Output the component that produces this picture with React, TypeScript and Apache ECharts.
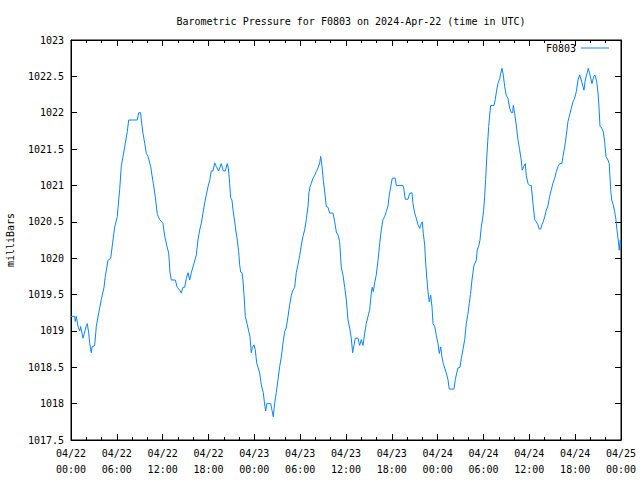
import React, { useEffect, useRef } from "react";
import * as echarts from "echarts";

const seriesName = "F0803";
const titleText = "Barometric Pressure for F0803 on 2024-Apr-22 (time in UTC)";
const yAxisTitle = "milliBars";
const xTickLabels = [
  "04/22\n00:00", "04/22\n06:00", "04/22\n12:00", "04/22\n18:00",
  "04/23\n00:00", "04/23\n06:00", "04/23\n12:00", "04/23\n18:00",
  "04/24\n00:00", "04/24\n06:00", "04/24\n12:00", "04/24\n18:00",
  "04/25\n00:00",
];

// hours since 2024-04-22 00:00 UTC
const hours = [
  0, 0.48, 0.56, 0.69, 0.92, 1.14, 1.27, 1.57, 1.7, 2.0, 2.13, 2.32, 2.45, 2.58, 2.66, 2.75, 3.1, 3.31, 3.63, 3.97,
  4.32, 4.49, 4.84, 5.2, 5.5, 5.72, 6.06, 6.24, 6.37, 6.58, 6.81, 7.11, 7.37, 7.55, 8.68, 8.86, 9.12, 9.2, 9.42, 9.65,
  9.86, 10.08, 10.43, 10.6, 10.77, 11.03, 11.3, 11.61, 12.04, 12.27, 12.57, 12.79, 12.96, 13.13, 13.65, 13.91, 14.23, 14.44, 14.66, 14.88,
  15.09, 15.32, 15.54, 15.75, 16.1, 16.4, 16.62, 16.85, 17.06, 17.28, 17.5, 17.71, 17.93, 18.16, 18.37, 18.59, 18.81, 19.02, 19.33, 19.67,
  19.94, 20.2, 20.46, 20.59, 20.72, 20.9, 21.07, 21.21, 21.43, 21.6, 21.77, 21.95, 22.08, 22.21, 22.38, 22.51, 22.65, 22.82, 23.04, 23.26,
  23.43, 23.6, 23.73, 23.95, 24.12, 24.31, 24.48, 24.7, 24.91, 25.17, 25.36, 25.49, 25.62, 26.14, 26.31, 26.48, 26.66, 26.87, 27.1, 27.32,
  27.53, 27.75, 27.97, 28.18, 28.41, 28.63, 28.84, 29.06, 29.28, 29.49, 29.71, 29.94, 30.15, 30.37, 30.59, 30.8, 31.02, 31.15, 31.29, 31.46,
  31.68, 31.9, 32.11, 32.33, 32.56, 32.69, 32.86, 33.03, 33.21, 33.42, 33.64, 33.86, 34.3, 34.52, 34.73, 34.95, 35.17, 35.38, 35.6, 35.83,
  36.04, 36.26, 36.48, 36.69, 36.87, 37.04, 37.22, 37.57, 37.79, 38.0, 38.22, 38.45, 38.65, 38.88, 39.1, 39.31, 39.44, 39.57, 39.75, 39.96,
  40.19, 40.41, 40.62, 40.84, 41.06, 41.27, 41.5, 41.67, 41.85, 42.06, 42.45, 42.58, 43.46, 43.59, 43.76, 44.11, 44.34, 44.64, 44.77, 44.99,
  45.2, 45.42, 45.65, 45.86, 45.99, 46.12, 46.3, 46.43, 46.6, 46.73, 46.9, 47.09, 47.26, 47.39, 47.61, 47.82, 48.04, 48.21, 48.4, 48.56,
  48.74, 48.92, 49.13, 49.35, 49.52, 50.13, 50.31, 50.49, 50.66, 50.92, 51.09, 51.31, 51.54, 51.74, 51.97, 52.14, 52.3, 52.49, 52.75, 53.05,
  53.18, 53.41, 53.54, 53.71, 53.89, 54.02, 54.15, 54.28, 54.41, 54.55, 54.68, 54.85, 54.94, 55.37, 55.54, 55.72, 55.89, 56.12, 56.25, 56.42,
  56.59, 56.77, 56.98, 57.2, 57.43, 57.64, 57.82, 57.9, 58.08, 58.29, 58.51, 58.73, 58.94, 59.07, 59.26, 59.47, 59.6, 59.82, 60.04, 60.25,
  60.48, 60.7, 60.91, 61.13, 61.3, 61.49, 61.65, 61.82, 62.01, 62.22, 62.44, 62.66, 62.87, 63.09, 63.32, 63.53, 63.75, 63.97, 64.27, 64.4,
  64.63, 64.84, 65.06, 65.28, 65.49, 65.71, 65.93, 66.15, 66.37, 66.59, 66.8, 67.02, 67.15, 67.32, 67.54, 67.72, 67.94, 68.2, 68.43, 68.59,
  68.82, 68.99, 69.12, 69.25, 69.42, 69.68, 69.86, 70.03, 70.29, 70.46, 70.65, 70.78, 70.99, 71.17, 71.34, 71.47, 71.64, 71.77, 71.9, 71.99,
];

const pressure = [
  1019.2, 1019.2, 1019.13, 1019.2, 1019.06, 1019.0, 1019.06, 1018.9, 1018.95, 1019.07, 1019.1, 1018.97, 1018.83, 1018.74, 1018.7, 1018.78, 1018.8, 1019.06, 1019.25, 1019.43,
  1019.6, 1019.75, 1019.97, 1020.0, 1020.25, 1020.43, 1020.57, 1020.8, 1020.94, 1021.26, 1021.4, 1021.58, 1021.74, 1021.9, 1021.9, 1022.0, 1022.0, 1021.9, 1021.72, 1021.58,
  1021.44, 1021.4, 1021.26, 1021.14, 1021.03, 1020.85, 1020.6, 1020.53, 1020.48, 1020.3, 1020.16, 1020.07, 1019.8, 1019.7, 1019.7, 1019.6, 1019.56, 1019.52, 1019.6, 1019.6,
  1019.72, 1019.8, 1019.7, 1019.8, 1019.93, 1020.04, 1020.25, 1020.39, 1020.48, 1020.62, 1020.76, 1020.87, 1020.98, 1021.07, 1021.2, 1021.2, 1021.31, 1021.26, 1021.2, 1021.3,
  1021.2, 1021.2, 1021.3, 1021.24, 1021.1, 1020.83, 1020.8, 1020.66, 1020.5, 1020.36, 1020.25, 1020.09, 1019.91, 1019.81, 1019.8, 1019.7, 1019.5, 1019.2, 1019.1, 1019.0,
  1018.92, 1018.7, 1018.77, 1018.81, 1018.74, 1018.56, 1018.5, 1018.42, 1018.26, 1018.15, 1017.98, 1017.9, 1018.0, 1018.0, 1017.91, 1017.82, 1018.0, 1018.15, 1018.33, 1018.51,
  1018.64, 1018.83, 1018.99, 1019.04, 1019.2, 1019.36, 1019.49, 1019.56, 1019.6, 1019.8, 1019.91, 1020.04, 1020.18, 1020.3, 1020.39, 1020.53, 1020.71, 1020.9, 1020.98, 1021.03,
  1021.1, 1021.14, 1021.19, 1021.24, 1021.31, 1021.4, 1021.26, 1021.07, 1020.91, 1020.71, 1020.7, 1020.62, 1020.62, 1020.5, 1020.36, 1020.32, 1020.23, 1019.88, 1019.77, 1019.6,
  1019.43, 1019.15, 1019.04, 1018.9, 1018.7, 1018.8, 1018.9, 1018.9, 1018.8, 1018.88, 1018.8, 1018.97, 1019.1, 1019.2, 1019.29, 1019.52, 1019.6, 1019.54, 1019.66, 1019.77,
  1019.97, 1020.2, 1020.39, 1020.53, 1020.57, 1020.64, 1020.72, 1020.87, 1020.98, 1021.1, 1021.1, 1021.0, 1021.0, 1020.94, 1020.81, 1020.81, 1020.89, 1020.9, 1020.75, 1020.62,
  1020.55, 1020.46, 1020.41, 1020.48, 1020.5, 1020.34, 1020.18, 1019.93, 1019.7, 1019.54, 1019.4, 1019.49, 1019.33, 1019.1, 1019.06, 1018.94, 1018.83, 1018.69, 1018.78, 1018.64,
  1018.55, 1018.49, 1018.42, 1018.33, 1018.2, 1018.2, 1018.33, 1018.42, 1018.49, 1018.5, 1018.62, 1018.74, 1018.88, 1019.1, 1019.24, 1019.38, 1019.5, 1019.7, 1019.9, 1019.97,
  1020.11, 1020.18, 1020.25, 1020.43, 1020.55, 1020.66, 1020.85, 1021.08, 1021.35, 1021.6, 1021.81, 1022.01, 1022.1, 1022.1, 1022.18, 1022.31, 1022.4, 1022.47, 1022.54, 1022.61,
  1022.52, 1022.36, 1022.24, 1022.2, 1022.06, 1022.0, 1022.0, 1022.1, 1021.99, 1021.83, 1021.63, 1021.49, 1021.35, 1021.21, 1021.26, 1021.3, 1021.14, 1021.03, 1021.0, 1021.0,
  1020.75, 1020.53, 1020.5, 1020.46, 1020.4, 1020.4, 1020.46, 1020.5, 1020.57, 1020.66, 1020.72, 1020.85, 1020.94, 1021.03, 1021.1, 1021.19, 1021.26, 1021.3, 1021.3, 1021.4,
  1021.53, 1021.69, 1021.88, 1021.97, 1022.06, 1022.15, 1022.2, 1022.29, 1022.45, 1022.52, 1022.45, 1022.36, 1022.31, 1022.45, 1022.54, 1022.61, 1022.52, 1022.4, 1022.5, 1022.52,
  1022.43, 1022.27, 1022.08, 1021.81, 1021.8, 1021.74, 1021.6, 1021.4, 1021.35, 1021.3, 1020.94, 1020.8, 1020.73, 1020.64, 1020.53, 1020.39, 1020.25, 1020.11, 1020.25, 1020.2,
];

const FONT = "DejaVu Sans Mono";
const LINE_COLOR = "#0a84ff";

export default function App() {
  const ref = useRef<HTMLDivElement>(null);

  useEffect(() => {
    if (!ref.current) return;
    const chart = echarts.init(ref.current, undefined, { renderer: "svg" });
    const data = hours.map((h, i) => [h, pressure[i]]);
    const mkX = (position: string) => ({
      type: "value",
      position,
      min: 0,
      max: 72,
      interval: 6,
      splitLine: { show: false },
      axisLine: { show: true, onZero: false, lineStyle: { color: "#000", width: 1 } },
      axisTick: { show: true, inside: true, length: 6, lineStyle: { color: "#000", width: 1 } },
      minorTick: { show: true, splitNumber: 3, length: 3, lineStyle: { color: "#000", width: 1 } },
      axisLabel: {
        show: position === "bottom",
        margin: 5,
        fontFamily: FONT,
        fontSize: 10,
        color: "#000",
        lineHeight: 16,
        formatter: (v: number) => xTickLabels[Math.round(v / 6)] || "",
      },
    });
    const mkY = (position: string) => ({
      type: "value",
      position,
      min: 1017.5,
      max: 1023,
      interval: 0.5,
      splitLine: { show: false },
      axisLine: { show: true, onZero: false, lineStyle: { color: "#000", width: 1 } },
      axisTick: { show: true, inside: true, length: 6, lineStyle: { color: "#000", width: 1 } },
      axisLabel: {
        show: position === "left",
        margin: 7,
        fontFamily: FONT,
        fontSize: 10,
        color: "#000",
        formatter: (v: number) => String(v),
      },
    });
    chart.setOption({
      animation: false,
      title: {
        text: titleText,
        left: 346,
        top: 11,
        textAlign: "center",
        textStyle: { fontFamily: FONT, fontSize: 10, fontWeight: "normal", color: "#000" },
      },
      legend: {
        right: 31,
        top: 43,
        padding: 0,
        align: "right",
        icon: "rect",
        itemWidth: 28,
        itemHeight: 1,
        textStyle: { fontFamily: FONT, fontSize: 10, color: "#000" },
        data: [seriesName],
      },
      grid: {
        left: 71,
        right: 19,
        top: 40,
        bottom: 40,
        containLabel: false,
        show: true,
        borderColor: "#000",
        borderWidth: 1,
        backgroundColor: "transparent",
      },
      xAxis: [mkX("bottom"), mkX("top")],
      yAxis: [mkY("left"), mkY("right")],
      graphic: [
        {
          type: "text",
          x: 10,
          y: 240,
          rotation: Math.PI / 2,
          style: {
            text: yAxisTitle,
            fontFamily: FONT,
            fontSize: 10,
            fill: "#000",
            textAlign: "center",
            textVerticalAlign: "middle",
          },
        },
      ],
      series: [
        {
          name: seriesName,
          type: "line",
          data,
          showSymbol: false,
          symbol: "none",
          lineStyle: { color: LINE_COLOR, width: 1 },
          itemStyle: { color: LINE_COLOR },
        },
      ],
    });
    return () => chart.dispose();
  }, []);

  return (
    <div
      ref={ref}
      style={{ position: "fixed", left: 0, top: 0, width: 640, height: 480, background: "#fff" }}
    />
  );
}
